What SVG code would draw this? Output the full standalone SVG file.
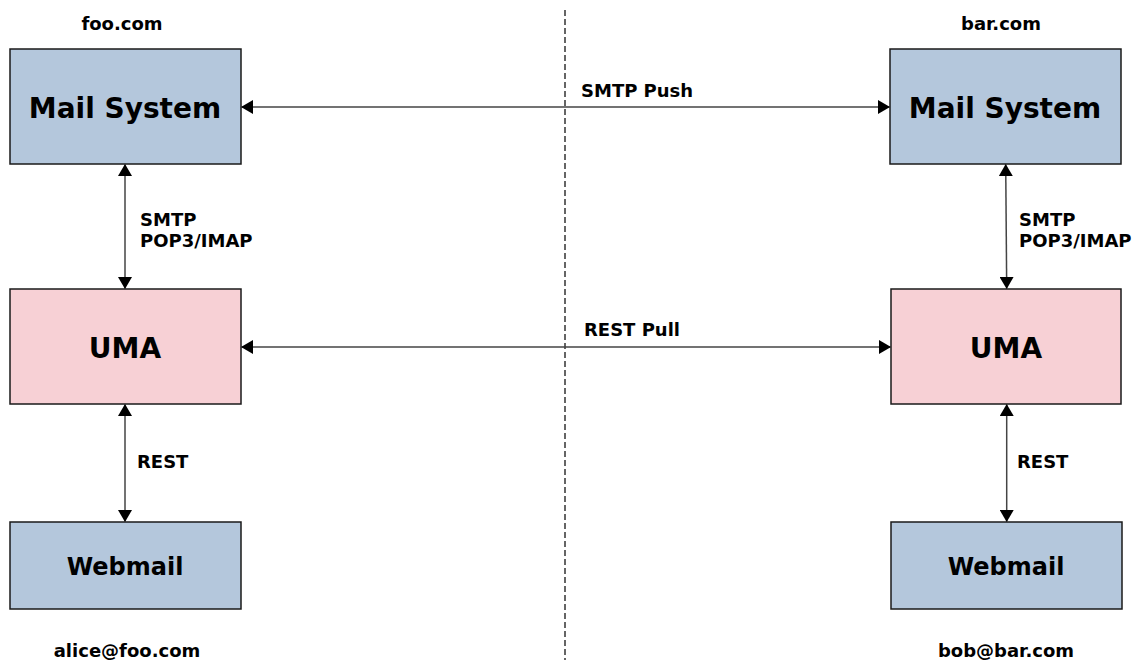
<svg xmlns="http://www.w3.org/2000/svg" width="1133" height="660" viewBox="0 0 1133 660">
<style>
.box{stroke:#1a1a1a;stroke-width:1.5}
.blue{fill:#b4c7dc}
.pink{fill:#f7d0d5}
.t{font-family:"DejaVu Sans",sans-serif;font-weight:bold;fill:#000}
.big{font-size:28px}
.mid{font-size:24px}
.sm{font-size:18px}
.conn{stroke:#444;stroke-width:1.5;fill:none;marker-start:url(#ah);marker-end:url(#ah)}
</style>
<defs>
<marker id="ah" viewBox="0 0 12 14" refX="12" refY="7" markerWidth="12" markerHeight="14" markerUnits="userSpaceOnUse" orient="auto-start-reverse">
<path d="M0,0 L12,7 L0,14 z" fill="#000"/>
</marker>
</defs>
<rect width="1133" height="660" fill="#fff"/>
<line x1="565" y1="10" x2="565" y2="660" stroke="#333" stroke-width="1.5" stroke-dasharray="6,3"/>
<text class="t sm" x="122" y="30" text-anchor="middle">foo.com</text>
<text class="t sm" x="1001" y="30" text-anchor="middle">bar.com</text>
<text class="t sm" x="127" y="657" text-anchor="middle">alice@foo.com</text>
<text class="t sm" x="1006" y="657" text-anchor="middle">bob@bar.com</text>
<g id="mail-left"><rect class="box blue" x="10" y="49" width="231" height="115"/><text class="t big" x="125" y="118" text-anchor="middle">Mail System</text></g>
<g id="mail-right"><rect class="box blue" x="890" y="49" width="231" height="115"/><text class="t big" x="1005" y="118" text-anchor="middle">Mail System</text></g>
<g id="uma-left"><rect class="box pink" x="10" y="289" width="231" height="115"/><text class="t big" x="125" y="358" text-anchor="middle">UMA</text></g>
<g id="uma-right"><rect class="box pink" x="891" y="289" width="230" height="115"/><text class="t big" x="1006" y="358" text-anchor="middle">UMA</text></g>
<g id="webmail-left"><rect class="box blue" x="10" y="522" width="231" height="87"/><text class="t mid" x="125" y="575" text-anchor="middle">Webmail</text></g>
<g id="webmail-right"><rect class="box blue" x="891" y="522" width="231" height="87"/><text class="t mid" x="1006" y="575" text-anchor="middle">Webmail</text></g>
<g id="connectors">
<line class="conn" x1="241" y1="107" x2="890" y2="107"/>
<line class="conn" x1="241" y1="347" x2="891" y2="347"/>
<line class="conn" x1="125" y1="164" x2="125" y2="289"/>
<line class="conn" x1="125" y1="404" x2="125" y2="522"/>
<line class="conn" x1="1005.7" y1="164" x2="1006.7" y2="289"/>
<line class="conn" x1="1006.7" y1="404" x2="1006.7" y2="522"/>
<text class="t sm" x="581" y="97">SMTP Push</text>
<text class="t sm" x="584" y="336">REST Pull</text>
<text class="t sm" x="140" y="226">SMTP</text>
<text class="t sm" x="140" y="247">POP3/IMAP</text>
<text class="t sm" x="137" y="468">REST</text>
<text class="t sm" x="1019" y="226">SMTP</text>
<text class="t sm" x="1019" y="247">POP3/IMAP</text>
<text class="t sm" x="1017" y="468">REST</text>
</g>
</svg>
